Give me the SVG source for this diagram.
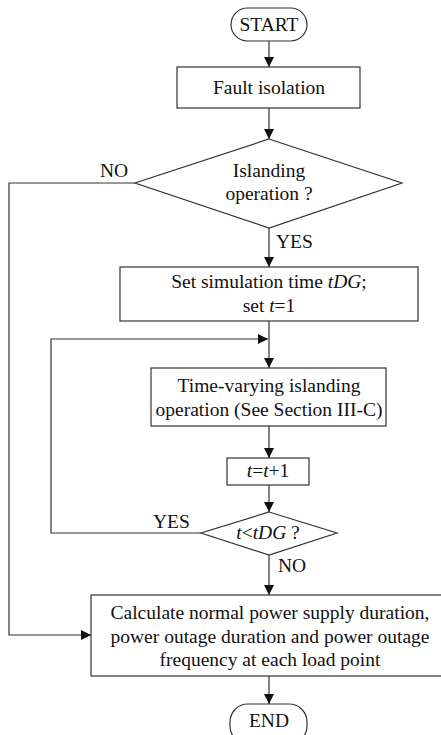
<svg xmlns="http://www.w3.org/2000/svg" width="441" height="735" viewBox="0 0 441 735">
<defs>
<style>
.s{fill:#fff;stroke:#333;stroke-width:1.2}
.c{fill:none;stroke:#333;stroke-width:1.2}
.t{font-family:"Liberation Serif","Times New Roman",serif;font-size:19.5px;fill:#111;text-anchor:middle}
.l{font-family:"Liberation Serif","Times New Roman",serif;font-size:19.5px;fill:#111}
</style>
<marker id="a" markerUnits="userSpaceOnUse" markerWidth="10" markerHeight="10" refX="10" refY="5" orient="auto">
<path d="M0,0 L10,5 L0,10 z" fill="#111"/>
</marker>
</defs>
<rect width="441" height="735" fill="#fff"/>
<g id="connectors">
<line class="c" x1="269" y1="41" x2="269" y2="67" marker-end="url(#a)"/>
<line class="c" x1="269" y1="108" x2="269" y2="139" marker-end="url(#a)"/>
<line class="c" x1="269" y1="228" x2="269" y2="267" marker-end="url(#a)"/>
<line class="c" x1="269" y1="321" x2="269" y2="368" marker-end="url(#a)"/>
<line class="c" x1="269" y1="426" x2="269" y2="458" marker-end="url(#a)"/>
<line class="c" x1="269" y1="485" x2="269" y2="512" marker-end="url(#a)"/>
<line class="c" x1="269" y1="555" x2="269" y2="595" marker-end="url(#a)"/>
<line class="c" x1="269" y1="676" x2="269" y2="704" marker-end="url(#a)"/>
<polyline class="c" points="135,183 9,183 9,635 91,635" marker-end="url(#a)"/>
<polyline class="c" points="201,533 51,533 51,339 268,339" marker-end="url(#a)"/>
<text class="l" x="100" y="177">NO</text>
<text class="l" x="276" y="248">YES</text>
<text class="l" x="153" y="528">YES</text>
<text class="l" x="278" y="572">NO</text>
</g>
<g id="start">
<rect class="s" x="231" y="8" width="76" height="33" rx="16.5"/>
<text class="t" x="269" y="31">START</text>
</g>
<g id="fault">
<rect class="s" x="177" y="67" width="183" height="41"/>
<text class="t" x="269" y="94">Fault isolation</text>
</g>
<g id="islanding">
<polygon class="s" points="269,139 402,183 269,228 135,183"/>
<text class="t" x="269" y="177">Islanding</text>
<text class="t" x="269" y="200">operation ?</text>
</g>
<g id="setsim">
<rect class="s" x="120" y="267" width="298" height="54"/>
<text class="t" x="269" y="288">Set simulation time <tspan font-style="italic">tDG</tspan>;</text>
<text class="t" x="269" y="312">set <tspan font-style="italic">t</tspan>=1</text>
</g>
<g id="timevarying">
<rect class="s" x="151" y="368" width="235" height="58"/>
<text class="t" x="269" y="392">Time-varying islanding</text>
<text class="t" x="269" y="416">operation (See Section III-C)</text>
</g>
<g id="increment">
<rect class="s" x="227" y="458" width="82" height="27"/>
<text class="t" x="268" y="477"><tspan font-style="italic">t</tspan>=<tspan font-style="italic">t</tspan>+1</text>
</g>
<g id="check">
<polygon class="s" points="269,512 337,533 269,555 201,533"/>
<text class="t" x="268" y="539"><tspan font-style="italic">t</tspan>&lt;<tspan font-style="italic">tDG</tspan> ?</text>
</g>
<g id="calculate">
<rect class="s" x="91" y="595" width="356" height="81"/>
<text class="t" x="270" y="619">Calculate normal power supply duration,</text>
<text class="t" x="270" y="643">power outage duration and power outage</text>
<text class="t" x="270" y="666">frequency at each load point</text>
</g>
<g id="end">
<rect class="s" x="230" y="704" width="77" height="40" rx="18"/>
<text class="t" x="269" y="727">END</text>
</g>
</svg>
